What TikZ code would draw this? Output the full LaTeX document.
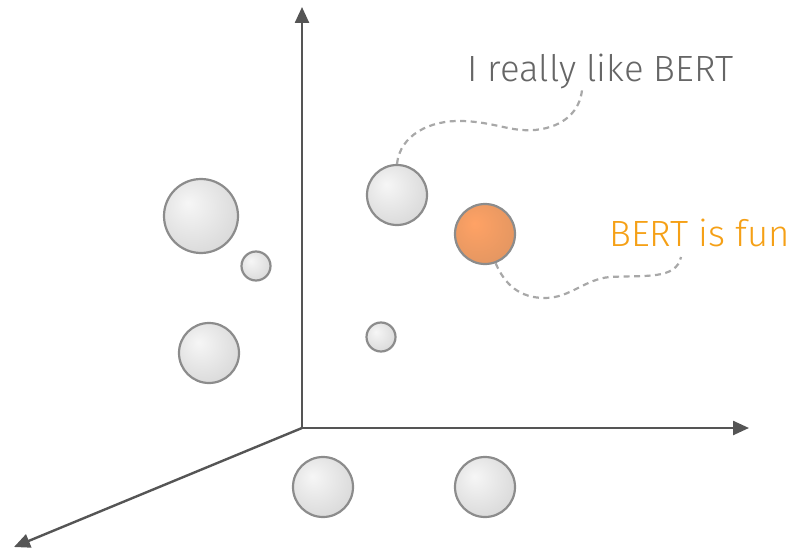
\documentclass[tikz,border=0pt]{standalone}
\usepackage{fontspec}
\setmainfont{Fira Sans Light}
\usetikzlibrary{arrows.meta}
\definecolor{axisgray}{HTML}{555555}
\definecolor{rimgray}{HTML}{8C8C8C}
\definecolor{wiregray}{HTML}{A8A8A8}
\definecolor{bertorange}{HTML}{F5A016}
\definecolor{grayhi}{HTML}{F6F6F6}
\definecolor{graylo}{HTML}{D2D2D2}
\definecolor{orangehi}{HTML}{FFA265}
\definecolor{orangelo}{HTML}{DC9360}
\pgfdeclareradialshading{grayball}{\pgfpoint{-9bp}{9bp}}{color(0bp)=(grayhi); color(40bp)=(graylo); color(60bp)=(graylo)}
\pgfdeclareradialshading{orangeball}{\pgfpoint{-9bp}{9bp}}{color(0bp)=(orangehi); color(40bp)=(orangelo); color(60bp)=(orangelo)}
\tikzset{
  axis/.style={axisgray, line width=2.4pt, -{Triangle[length=16pt,width=14pt]}},
  ball/.style={circle, draw=rimgray, line width=2.2pt, inner sep=0pt,
    minimum size=#1, shading=grayball},
  hotball/.style={ball=#1, shading=orangeball},
  wire/.style={wiregray, line width=2.2pt, dash pattern=on 6pt off 4.5pt},
  lbl/.style={inner sep=0pt, font=\fontsize{36.5}{40}\selectfont}
}
\begin{document}
\begin{tikzpicture}[x=1pt, y=-1pt]
  \useasboundingbox (0,0) rectangle (799,548);

  % Axes
  \coordinate (o) at (302,428);
  \coordinate (ytip) at (302,7);
  \coordinate (xtip) at (749,428);
  \coordinate (ztip) at (14,547);
  \draw[axis] (o) -- (ytip);
  \draw[axis] (o) -- (xtip);
  \draw[axis] (o) -- (ztip);

  % Embedded sentences
  \node[ball=74pt] (a1) at (201,216) {};
  \node[ball=29pt] (a2) at (256,266) {};
  \node[ball=60pt] (a3) at (209,353) {};
  \node[ball=60pt] (m1) at (397,195) {};
  \node[hotball=60pt] (m2) at (485,234) {};
  \node[ball=29pt] (m3) at (381,337) {};
  \node[ball=60pt] (b1) at (323,487) {};
  \node[ball=60pt] (b2) at (485,487) {};

  % Labels
  \node[lbl, anchor=base west, text=axisgray!90!white] (s1) at (467,82) {I really like BERT};
  \node[lbl, anchor=base west, text=bertorange] (s2) at (609,246) {BERT is fun};
  \coordinate (s1end) at (582,90);
  \coordinate (s2end) at (681,257);

  \draw[wire] (m1.north) .. controls (400,135) and (430,120) .. (462,121)
    .. controls (495,122) and (510,132) .. (535,130)
    .. controls (565,127) and (580,110) .. (s1end);
  \draw[wire] (m2.-70) .. controls (505,285) and (520,298) .. (545,298)
    .. controls (570,298) and (585,279) .. (610,277)
    .. controls (645,275) and (676,280) .. (s2end);
\end{tikzpicture}
\end{document}
